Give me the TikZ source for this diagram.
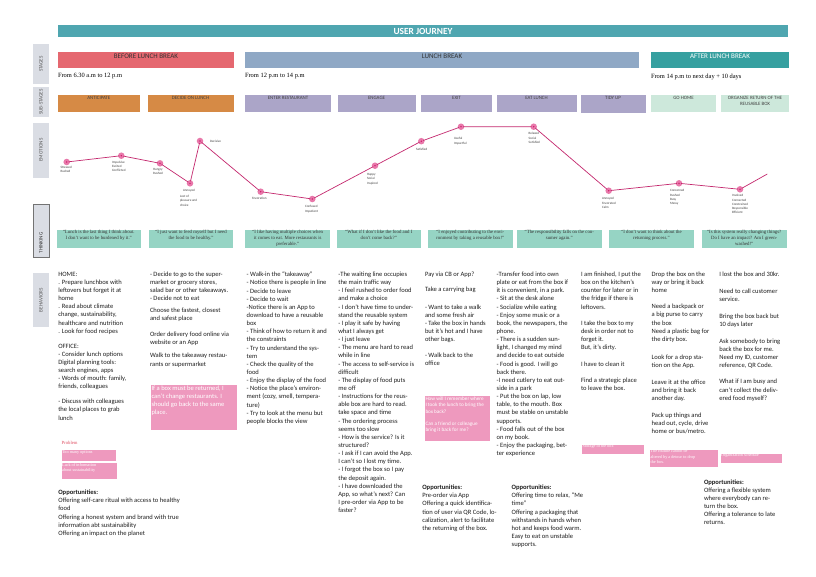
\documentclass[tikz,border=0pt]{standalone}
\usepackage{fontspec}
\setmainfont{Carlito}
\newfontfamily\timesfont{Liberation Serif}
\usetikzlibrary{positioning}

\definecolor{titleteal}{RGB}{79,166,176}
\definecolor{beforered}{RGB}{229,104,112}
\definecolor{lunchblue}{RGB}{143,168,197}
\definecolor{afterteal}{RGB}{54,160,160}
\definecolor{suborange}{RGB}{214,138,69}
\definecolor{subpurple}{RGB}{171,165,200}
\definecolor{subgreen}{RGB}{205,232,219}
\definecolor{thinkgreen}{RGB}{150,212,196}
\definecolor{notepink}{RGB}{238,153,190}
\definecolor{labelgray}{RGB}{218,221,228}
\definecolor{emoline}{RGB}{196,40,110}
\definecolor{emodot}{RGB}{200,0,90}
\definecolor{emohalo}{RGB}{232,120,170}
\definecolor{problemred}{RGB}{224,80,100}

\begin{document}
\begin{tikzpicture}[x=0.03cm,y=-0.03cm,
  every node/.style={inner sep=0pt,outer sep=0pt},
  rowlabel/.style={rotate=90,font=\fontsize{4.4}{5}\selectfont,text=black!65},
  stagetext/.style={font=\fontsize{6}{7}\selectfont},
  subtext/.style={anchor=north,align=center,font=\fontsize{4.2}{5.4}\selectfont,text=black!75},
  timetext/.style={anchor=west,font=\timesfont\fontsize{5.5}{6}\selectfont},
  emo/.style={circle,fill=emodot,draw=emohalo,line width=0.07cm,minimum size=0.12cm},
  emolabel/.style={anchor=north west,align=left,font=\fontsize{2.8}{3.6}\selectfont,text=black!75},
  thinktext/.style={anchor=north,align=center,font=\timesfont\fontsize{4.1}{4.9}\selectfont,text=black!80},
  behav/.style={anchor=north west,align=left,font=\fontsize{5.6}{6.95}\selectfont,text=black!88},
  notetext/.style={anchor=north west,align=left,text=white,font=\fontsize{5.6}{6.95}\selectfont},
  tinynote/.style={anchor=north west,align=left,text=white,font=\timesfont\fontsize{3.6}{4.4}\selectfont}
]
\useasboundingbox[fill=white] (0,0) rectangle (816,576);

% title
\fill[titleteal] (58,25) rectangle (788,37);
\node[font=\bfseries\fontsize{8}{9}\selectfont,text=white] (title) at (423,31) {USER JOURNEY};

% row labels
\fill[labelgray] (33,44) rectangle (49,84);
\node[rowlabel] (lstages) at (41,64) {STAGES};
\fill[labelgray] (33,87) rectangle (49,117);
\node[rowlabel] (lsub) at (41,102) {SUB-STAGES};
\fill[labelgray] (33,123) rectangle (49,178);
\node[rowlabel] (lemo) at (41,150) {EMOTIONS};
\filldraw[fill=labelgray,draw=black!55,line width=0.4pt] (33,204) rectangle (49,257);
\node[rowlabel,text=black!80] (lthink) at (41,243) {THINKING};
\fill[labelgray] (33,273) rectangle (49,327);
\node[rowlabel] (lbehav) at (41,300) {BEHAVIORS};

% stages
\fill[beforered] (58,52) rectangle (234,68);
\node[stagetext,text=black!80] (before) at (146,56.5) {BEFORE LUNCH BREAK};
\fill[lunchblue] (245,52) rectangle (639,68);
\node[stagetext,text=black!80] (lunch) at (442,56.5) {LUNCH BREAK};
\fill[afterteal] (651,52) rectangle (789,68);
\node[stagetext,text=white] (after) at (720,56.5) {AFTER  LUNCH BREAK};

\node[timetext] (tbefore) at (58,76.5) {From 6.30 a.m to 12 p.m};
\node[timetext] (tlunch) at (245,76.5) {From 12 p.m to 14 p.m};
\node[timetext] (tafter) at (651,76.5) {From 14 p.m to next day + 10 days};

% sub-stages
\fill[suborange] (58,95) rectangle (139.5,111.5);
\node[subtext] (anticipate) at (98.8,96.3) {ANTICIPATE};
\fill[suborange] (147.5,95) rectangle (233.5,111.5);
\node[subtext] (decide) at (190.5,96.3) {DECIDE ON LUNCH};
\fill[subpurple] (245,95) rectangle (331,111.5);
\node[subtext] (enter) at (288,96.3) {ENTER RESTAURANT};
\fill[subpurple] (337.5,95) rectangle (415.5,111.5);
\node[subtext] (engage) at (376.5,96.3) {ENGAGE};
\fill[subpurple] (421,95) rectangle (492,111.5);
\node[subtext] (exit) at (456.5,96.3) {EXIT};
\fill[subpurple] (496.5,95) rectangle (576.5,111.5);
\node[subtext] (eat) at (536.5,96.3) {EAT LUNCH};
\fill[subpurple] (580.5,95) rectangle (645.5,112.5);
\node[subtext] (tidy) at (613,96.3) {TIDY UP};
\fill[subgreen] (651,95) rectangle (716,111.5);
\node[subtext] (home) at (683.5,96.3) {GO HOME};
\fill[subgreen] (721,95) rectangle (789,111.5);
\node[subtext] (organize) at (755,96.3) {ORGANIZE RETURN OF THE\\REUSABLE BOX};

% emotions
\node[emo] (e1) at (66.7,162) {};
\node[emo] (e2) at (121.3,155.7) {};
\node[emo] (e3) at (160,163.3) {};
\node[emo] (e4) at (190,183.3) {};
\node[emo] (e5) at (200,141) {};
\node[emo] (e6) at (260.7,191.7) {};
\node[emo] (e7) at (312.3,199) {};
\node[emo] (e8) at (375,165.7) {};
\node[emo] (e9) at (421.3,141.2) {};
\node[emo] (e10) at (461,126.7) {};
\node[emo] (e11) at (533.7,126.7) {};
\node[emo] (e12) at (608.7,190.7) {};
\node[emo] (e13) at (679,183.3) {};
\node[emo] (e14) at (740,189.3) {};
\coordinate (eend) at (767.3,174);
\draw[emoline,line width=0.6pt] (e1) -- (e2) -- (e3) -- (e4) -- (e5) -- (e6) -- (e7)
  -- (e8) -- (e9) -- (e10) -- (e11) -- (e12) -- (e13) -- (e14) -- (eend);

\node[emolabel] (m1) at (60.5,166) {Stressed\\Rushed};
\node[emolabel] (m2) at (112,161) {Impulsive\\Excited\\Conflicted};
\node[emolabel] (m3) at (153,168) {Hungry\\Rushed};
\node[emolabel] (m4) at (183,189.5) {Annoyed};
\node[emolabel] (m4b) at (180,195.5) {Lost of\\pleasure and\\choice};
\node[emolabel,anchor=west] (m5) at (210,141) {Decisive};
\node[emolabel] (m6) at (252,197.5) {Frustration};
\node[emolabel] (m7) at (305,205.5) {Confused\\Impatient};
\node[emolabel] (m8) at (367,173.5) {Happy\\Social\\Inspired};
\node[emolabel] (m9) at (416,148.5) {Satisfied};
\node[emolabel] (m10) at (454,137.5) {Useful\\Impactful};
\node[emolabel] (m11) at (528.7,132.5) {Relaxed\\Social\\Satisfied};
\node[emolabel] (m12) at (602,197.5) {Annoyed\\Frustrated\\Calm};
\node[emolabel] (m13) at (670,189.5) {Concerned\\Rushed\\Busy\\Messy};
\node[emolabel] (m14) at (732,194.5) {Involved\\Connected\\Constrained\\Responsible\\Efficient};

% thinking
\fill[thinkgreen] (56.7,230) rectangle (140.7,248);
\node[thinktext] (k1) at (98.7,230.5) {“Lunch is the last thing I think about.\\I don’t want to be burdened by it.”};
\fill[thinkgreen] (149,230) rectangle (233,248);
\node[thinktext] (k2) at (191,230.5) {“I just want to feed myself but I need\\the food to be healthy.”};
\fill[thinkgreen] (245.3,230) rectangle (330,248);
\node[thinktext] (k3) at (287.7,230.5) {“I like having multiple choices when\\it comes to eat. More restaurants is\\preferable.”};
\fill[thinkgreen] (336.7,230) rectangle (421,248);
\node[thinktext] (k4) at (378.8,230.5) {“What if I don’t like the food and I\\don’t come back?”};
\fill[thinkgreen] (428,230) rectangle (512.7,248);
\node[thinktext] (k5) at (470.3,230.5) {“I enjoyed contributing to the envi-\\ronment by taking a reusable box!”};
\fill[thinkgreen] (517,230) rectangle (601.7,248);
\node[thinktext] (k6) at (559.3,230.5) {“The responsibility falls on the con-\\sumer again.”};
\fill[thinkgreen] (609,230) rectangle (694,248);
\node[thinktext] (k7) at (651.5,230.5) {“I don’t want to think about the\\returning process.”};
\fill[thinkgreen] (701.7,230) rectangle (786.7,248);
\node[thinktext] (k8) at (744.2,230.5) {“Is this system really changing things?\\Do I have an impact? Am I green-\\washed!”};

% behaviors
\node[behav] (b1) at (58.3,272) {HOME:\\. Prepare lunchbox with\\leftovers but forget it at\\home\\. Read about climate\\change, sustainability,\\healthcare and nutrition\\. Look for food recipes\\[5.8pt]
OFFICE:\\- Consider lunch options\\Digital planning tools:\\search engines, apps\\- Words of mouth: family,\\friends, colleagues\\[5.8pt]
- Discuss with colleagues\\the local places to grab\\lunch};
\node[behav] (b2) at (150,272) {- Decide to go to the super-\\market or grocery stores,\\salad bar or other takeaways.\\- Decide not to eat\\[3pt]
Choose the fastest, closest\\and safest place\\[6.7pt]
Order delivery food online via\\website or an App\\[4.1pt]
Walk to the takeaway restau-\\rants or supermarket};
\node[behav] (b3) at (246.7,272) {- Walk-in the “takeaway”\\- Notice there is people in line\\- Decide to leave\\- Decide to wait\\-Notice there is an App to\\download to have a reusable\\box\\- Think of how to return it and\\the constraints\\- Try to understand the sys-\\tem\\- Check the quality of the\\food\\- Enjoy the display of the food\\- Notice the place’s environ-\\ment (cozy, smell, tempera-\\ture)\\- Try to look at the menu but\\people blocks the view};
\node[behav] (b4) at (338.3,272) {-The waiting line occupies\\the main traffic way\\- I feel rushed to order food\\and make a choice\\- I don’t have time to under-\\stand the reusable system\\- I play it safe by having\\what I always get\\- I just leave\\- The menu are hard to read\\while in line\\- The access to self-service is\\difficult\\- The display of food puts\\me off\\- Instructions for the reus-\\able box are hard to read.\\take space and time\\- The ordering process\\seems too slow\\- How is the service? Is it\\structured?\\- I ask if I can avoid the App.\\I can’t so I lost my time.\\- I forgot the box so I pay\\the deposit again.\\- I have downloaded the\\App, so what’s next? Can\\I pre-order via App to be\\faster?};
\node[behav] (b5) at (425,272) {Pay via CB or App?\\[6.1pt]
Take a carrying bag\\[7.8pt]
- Want to take a walk\\and some fresh air\\- Take the box in hands\\but it’s hot and I have\\other bags.\\[6.7pt]
- Walk back to the\\office};
\node[behav] (b6) at (496.7,272) {-Transfer food into own\\plate or eat from the box if\\it is convenient, in a park.\\- Sit at the desk alone\\- Socialize while eating\\- Enjoy some music or a\\book, the newspapers, the\\phone.\\- There is a sudden sun-\\light, I changed my mind\\and decide to eat outside\\- Food is good. I will go\\back there.\\-I need cutlery to eat out-\\side in a park\\- Put the box on lap, low\\table, to the mouth. Box\\must be stable on unstable\\supports.\\- Food falls out of the box\\on my book.\\- Enjoy the packaging, bet-\\ter experience};
\node[behav] (b7) at (581,272) {I am finished, I put the\\box on the kitchen’s\\counter for later or in\\the fridge if there is\\leftovers.\\[7pt]
I take the box to my\\desk in order not to\\forget it.\\But, it’s dirty.\\[7pt]
I have to clean it\\[7pt]
Find a strategic place\\to leave the box.};
\node[behav] (b8) at (651.7,272) {Drop the box on the\\way or bring it back\\home\\[6.7pt]
Need a backpack or\\a big purse to carry\\the box\\Need a plastic bag for\\the dirty box.\\[8.6pt]
Look for a drop sta-\\tion on the App.\\[7.3pt]
Leave it at the office\\and bring it back\\another day.\\[7pt]
Pack up things and\\head out, cycle, drive\\home or bus/metro.};
\node[behav] (b9) at (719.3,272) {I lost the box and 30kr.\\[7.5pt]
Need to call customer\\service.\\[7.3pt]
Bring the box back but\\10 days later\\[7.3pt]
Ask somebody to bring\\back the box for me.\\Need my ID, customer\\reference, QR Code.\\[7pt]
What if I am busy and\\can’t collect the deliv-\\ered food myself?};

% notes and problems
\fill[notepink] (150.7,385.3) rectangle (236.7,429.7);
\node[notetext] (n2) at (151.5,385.8) {If a box must be returned, I\\can’t change restaurants. I\\should go back to the same\\place.};
\fill[notepink] (425,396.3) rectangle (490,441.3);
\node[notetext,font=\fontsize{4.4}{5.3}\selectfont] (n5) at (425.5,397) {How will I remember where\\I took the lunch to bring the\\box back?\\[5.3pt]Can a friend or colleague\\bring it back for me?};

\node[anchor=west,font=\timesfont\fontsize{4}{5}\selectfont,text=problemred] (problem) at (61.7,443) {Problem};
\fill[notepink] (61.7,449.7) rectangle (116,460.7);
\node[tinynote] (p1) at (62.2,450.2) {Too many options};
\fill[notepink] (61.7,463.3) rectangle (117.3,479);
\node[tinynote] (p2) at (62.2,463.8) {Lack of information\\about sustainability};

\fill[notepink] (582.3,444.7) rectangle (644.3,454);
\node[tinynote] (n7) at (582.6,445) {Storage of the box};
\fill[notepink] (650.3,449.7) rectangle (717.7,467.3);
\node[tinynote] (n8) at (650.6,450) {The routine cannot be\\altered by a detour to drop\\the box.};
\fill[notepink] (720.7,453.7) rectangle (782.3,462.7);
\node[tinynote] (n9) at (721,454) {Organization schedule};

% opportunities
\node[behav] (o1) at (58.3,490) {\textbf{Opportunities:}\\Offering self-care ritual with access to healthy\\food\\Offering a honest system and brand with true\\information abt sustainability\\Offering an impact on the planet};
\node[behav] (o5) at (422.3,485) {\textbf{Opportunities:}\\Pre-order via App\\Offering a quick identifica-\\tion of user via QR Code, lo-\\calization, alert to facilitate\\the returning of the box.};
\node[behav] (o6) at (511.7,485) {\textbf{Opportunities:}\\Offering time to relax, “Me\\time”\\Offering a packaging that\\withstands in hands when\\hot and keeps food warm.\\Easy to eat on unstable\\supports.};
\node[behav] (o8) at (704,479.5) {\textbf{Opportunities:}\\Offering a flexible system\\where everybody can re-\\turn the box.\\Offering a tolerance to late\\returns.};
\end{tikzpicture}
\end{document}
